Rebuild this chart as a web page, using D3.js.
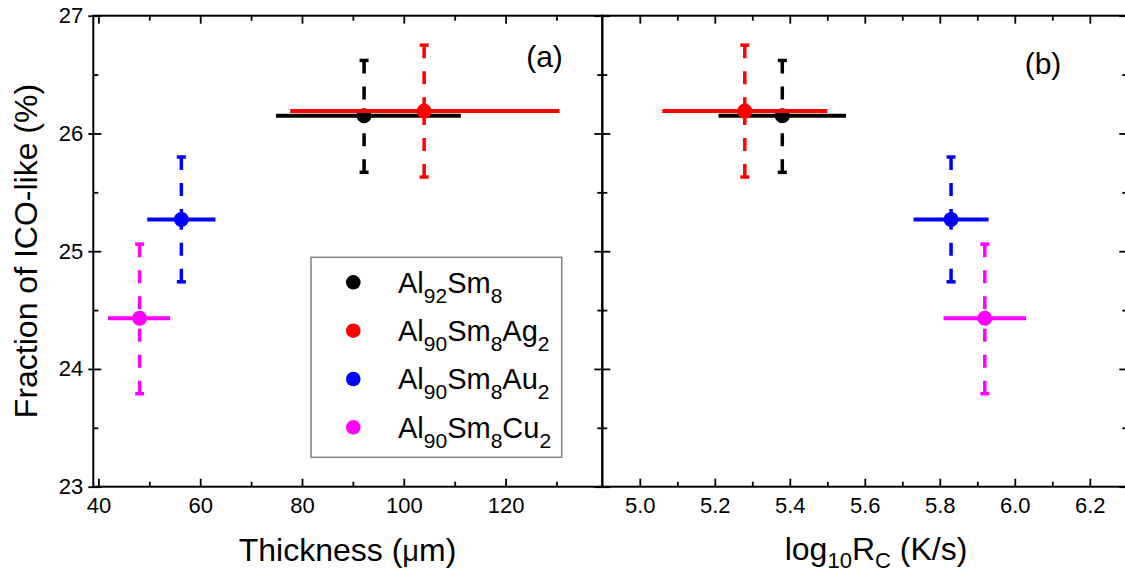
<!DOCTYPE html>
<html>
<head>
<meta charset="utf-8">
<script src="https://cdn.jsdelivr.net/npm/d3@7"></script>
<style>
  html, body { margin: 0; padding: 0; background: #fff; }
  svg text { font-family: "Liberation Sans", Arial, Helvetica, sans-serif; fill: #000; }
</style>
</head>
<body>
<svg id="chart" width="1125" height="575"></svg>
<script>
// ---------------- data ----------------
const alloys = ["Al92Sm8", "Al90Sm8Ag2", "Al90Sm8Au2", "Al90Sm8Cu2"];
const legendParts = [
  [["Al", 0], ["92", 1], ["Sm", 0], ["8", 1]],
  [["Al", 0], ["90", 1], ["Sm", 0], ["8", 1], ["Ag", 0], ["2", 1]],
  [["Al", 0], ["90", 1], ["Sm", 0], ["8", 1], ["Au", 0], ["2", 1]],
  [["Al", 0], ["90", 1], ["Sm", 0], ["8", 1], ["Cu", 0], ["2", 1]]
];
const colors = ["#000000", "#ff0000", "#0000ff", "#ff00ff"];

const icoFraction = [26.15, 26.19, 25.27, 24.43];
const icoLow      = [25.67, 25.63, 24.74, 23.79];
const icoHigh     = [26.62, 26.75, 25.80, 25.06];

const thickness     = [92.2, 104.0, 56.3, 48.1];
const thicknessLow  = [74.9, 77.7, 49.6, 41.9];
const thicknessHigh = [111.2, 130.6, 63.0, 54.1];

const logRc     = [5.38, 5.28, 5.83, 5.92];
const logRcLow  = [5.21, 5.06, 5.73, 5.81];
const logRcHigh = [5.55, 5.50, 5.93, 6.03];

const yMajor = [23, 24, 25, 26, 27];
const yMinor = [23.5, 24.5, 25.5, 26.5];
const xaMajor = [40, 60, 80, 100, 120];
const xaMinor = [50, 70, 90, 110, 130];
const xbMajor = [5.0, 5.2, 5.4, 5.6, 5.8, 6.0, 6.2];
const xbMinor = [5.1, 5.3, 5.5, 5.7, 5.9, 6.1];

// ---------------- layout ----------------
const svg = d3.select("#chart");
const yTop = 15.7, yBot = 486.7;
const aLeft = 93.3, mid = 602.3, bRight = 1127.3;

const y = d3.scaleLinear().domain([23, 27]).range([yBot, yTop]);
const xa = d3.scaleLinear().domain([39, 139]).range([aLeft, mid]);
const xb = d3.scaleLinear().domain([4.9, 6.3]).range([mid, bRight]);

const MAJ = 8, MIN = 5;

function styleAxis(g) {
  g.select(".domain").remove();
  g.selectAll(".tick line").attr("stroke", "#000").attr("stroke-width", 1.8);
  g.selectAll(".tick text").attr("font-size", 22).attr("fill", "#000")
    .style("font-family", "'Liberation Sans', Arial, sans-serif");
}

function xAxes(x, major, minor, fmt) {
  svg.append("g").attr("transform", `translate(0,${yBot})`)
    .call(d3.axisBottom(x).tickValues(major).tickSize(-MAJ).tickPadding(11).tickFormat(fmt))
    .call(styleAxis);
  svg.append("g").attr("transform", `translate(0,${yBot})`)
    .call(d3.axisBottom(x).tickValues(minor).tickSize(-MIN).tickFormat(""))
    .call(styleAxis);
  svg.append("g").attr("transform", `translate(0,${yTop})`)
    .call(d3.axisTop(x).tickValues(major).tickSize(-MAJ).tickFormat(""))
    .call(styleAxis);
  svg.append("g").attr("transform", `translate(0,${yTop})`)
    .call(d3.axisTop(x).tickValues(minor).tickSize(-MIN).tickFormat(""))
    .call(styleAxis);
}
xAxes(xa, xaMajor, xaMinor, d3.format("d"));
xAxes(xb, xbMajor, xbMinor, d3.format(".1f"));

// left y axis with labels
svg.append("g").attr("transform", `translate(${aLeft},0)`)
  .call(d3.axisLeft(y).tickValues(yMajor).tickSize(-MAJ).tickPadding(10).tickFormat(d3.format("d")))
  .call(styleAxis);
svg.append("g").attr("transform", `translate(${aLeft},0)`)
  .call(d3.axisLeft(y).tickValues(yMajor).tickSize(5).tickFormat(""))
  .call(styleAxis);
svg.append("g").attr("transform", `translate(${aLeft},0)`)
  .call(d3.axisLeft(y).tickValues(yMinor).tickSize(-MIN).tickFormat(""))
  .call(styleAxis);
// middle axis: ticks both ways
[[MAJ, yMajor], [MIN, yMinor]].forEach(([s, v]) => {
  svg.append("g").attr("transform", `translate(${mid},0)`)
    .call(d3.axisLeft(y).tickValues(v).tickSize(-s).tickFormat("")).call(styleAxis);
  svg.append("g").attr("transform", `translate(${mid},0)`)
    .call(d3.axisLeft(y).tickValues(v).tickSize(s).tickFormat("")).call(styleAxis);
});
// right axis
[[MAJ, yMajor], [MIN, yMinor]].forEach(([s, v]) => {
  svg.append("g").attr("transform", `translate(${bRight},0)`)
    .call(d3.axisRight(y).tickValues(v).tickSize(-s).tickFormat("")).call(styleAxis);
});

// frames
svg.append("rect").attr("x", aLeft).attr("y", yTop).attr("width", mid - aLeft).attr("height", yBot - yTop)
  .attr("fill", "none").attr("stroke", "#000").attr("stroke-width", 2);
svg.append("rect").attr("x", mid).attr("y", yTop).attr("width", bRight - mid).attr("height", yBot - yTop)
  .attr("fill", "none").attr("stroke", "#000").attr("stroke-width", 2);

// ---------------- data marks ----------------
function drawPanel(x, xs, xLo, xHi) {
  const g = svg.append("g");
  alloys.forEach((name, i) => {
    const c = colors[i];
    const cx = x(xs[i]), cy = y(icoFraction[i]);
    g.append("line").attr("x1", x(xLo[i])).attr("x2", x(xHi[i]))
      .attr("y1", cy).attr("y2", cy)
      .attr("stroke", c).attr("stroke-width", 4);
    [icoHigh[i], icoLow[i]].forEach(v => {
      const ey = y(v);
      g.append("line").attr("x1", cx).attr("x2", cx).attr("y1", ey).attr("y2", cy)
        .attr("stroke", c).attr("stroke-width", 3.5).attr("stroke-dasharray", "13,13");
      g.append("line").attr("x1", cx - 4.5).attr("x2", cx + 4.5).attr("y1", ey).attr("y2", ey)
        .attr("stroke", c).attr("stroke-width", 3.5);
    });
    g.append("circle").attr("cx", cx).attr("cy", cy).attr("r", 7.5).attr("fill", c);
  });
}
drawPanel(xa, thickness, thicknessLow, thicknessHigh);
drawPanel(xb, logRc, logRcLow, logRcHigh);

// ---------------- labels ----------------
svg.append("text").attr("x", 544.5).attr("y", 67).attr("text-anchor", "middle")
  .attr("font-size", 30).text("(a)");
svg.append("text").attr("x", 1043).attr("y", 74).attr("text-anchor", "middle")
  .attr("font-size", 30).text("(b)");

svg.append("text").attr("transform", "translate(37,251) rotate(-90)")
  .attr("text-anchor", "middle").attr("font-size", 32).text("Fraction of ICO-like (%)");

const tA = svg.append("text").attr("x", 347.5).attr("y", 561).attr("text-anchor", "middle").attr("font-size", 32);
tA.append("tspan").text("Thickness (");
tA.append("tspan").attr("font-size", 29).text("\u03bc");
tA.append("tspan").text("m)");

const tB = svg.append("text").attr("x", 876).attr("y", 560).attr("text-anchor", "middle").attr("font-size", 32);
tB.append("tspan").text("log");
tB.append("tspan").attr("font-size", 22).attr("dy", 8).text("10");
tB.append("tspan").attr("dy", -8).text("R");
tB.append("tspan").attr("font-size", 22).attr("dy", 8).text("C");
tB.append("tspan").attr("dy", -8).text(" (K/s)");

// ---------------- legend ----------------
const lg = svg.append("g");
lg.append("rect").attr("x", 311).attr("y", 257.3).attr("width", 250.7).attr("height", 200)
  .attr("fill", "#fff").attr("stroke", "#808080").attr("stroke-width", 1.5);
const rowY = [282.3, 330.7, 379, 427.3];
alloys.forEach((name, i) => {
  lg.append("circle").attr("cx", 353.3).attr("cy", rowY[i]).attr("r", 7.3).attr("fill", colors[i]);
  const t = lg.append("text").attr("x", 398).attr("y", rowY[i] + 10.4).attr("font-size", 29);
  let prevSub = 0;
  legendParts[i].forEach(([s, sub]) => {
    const dy = sub === prevSub ? 0 : (sub ? 10 : -10);
    t.append("tspan").attr("font-size", sub ? 21 : 29).attr("dy", dy).text(s);
    prevSub = sub;
  });
});
</script>
</body>
</html>
